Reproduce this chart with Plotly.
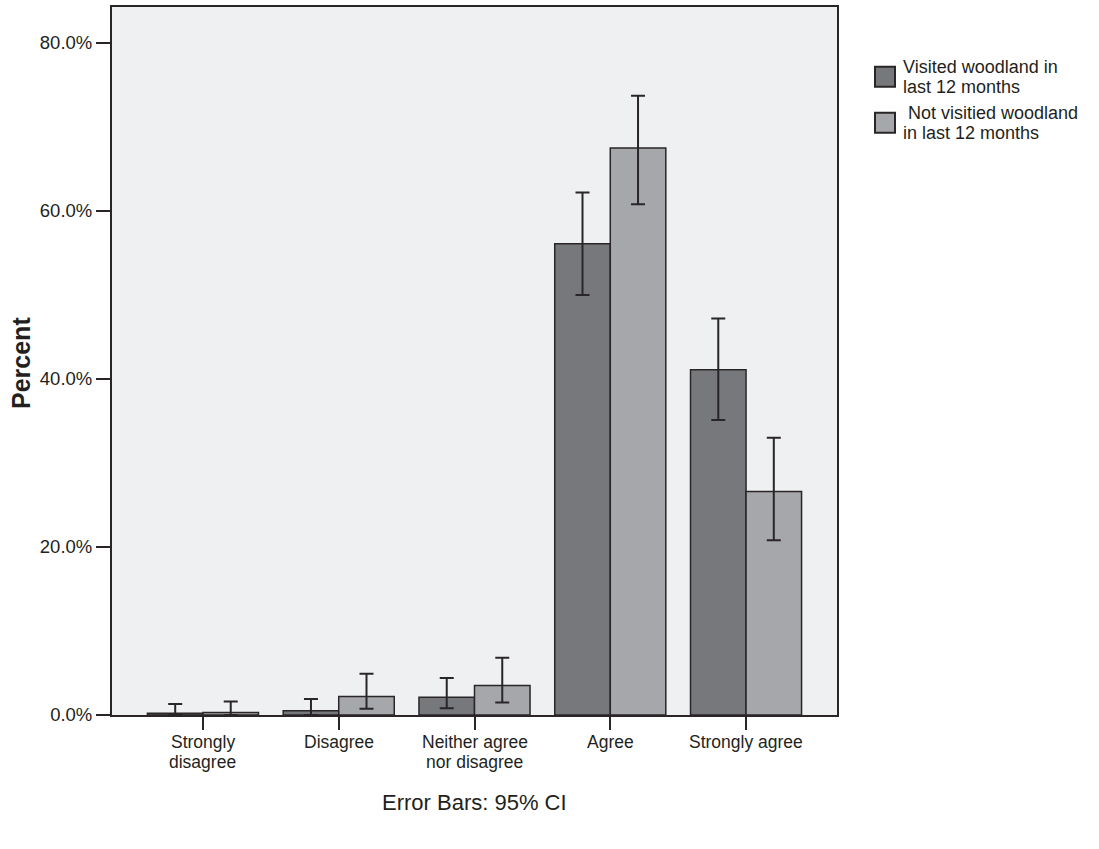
import plotly.graph_objects as go

categories = ["Strongly disagree", "Disagree", "Neither agree nor disagree", "Agree", "Strongly agree"]
category_label_lines = [["Strongly", "disagree"], ["Disagree"], ["Neither agree", "nor disagree"], ["Agree"], ["Strongly agree"]]
series_names = ["Visited woodland in last 12 months", " Not visitied woodland in last 12 months"]
legend_lines = [["Visited woodland in", "last 12 months"], ["\u00a0Not visitied woodland", "in last 12 months"]]

visited = [0.2, 0.5, 2.1, 56.1, 41.1]
visited_hi = [1.3, 1.9, 4.4, 62.2, 47.2]
visited_lo = [0.0, 0.0, 0.8, 50.0, 35.1]

not_visited = [0.3, 2.2, 3.5, 67.5, 26.6]
not_visited_hi = [1.6, 4.9, 6.8, 73.7, 33.0]
not_visited_lo = [0.0, 0.75, 1.5, 60.8, 20.8]

y_ticks = [0, 20, 40, 60, 80]
y_ticklabels = ["0.0%", "20.0%", "40.0%", "60.0%", "80.0%"]

DARK = "#77787c"
LIGHT = "#a6a7ab"
LINE = "#2a2627"
TXT = "#231f20"
FONT = "Liberation Sans, Arial, sans-serif"

# plot area in pixels
PL, PR, PT, PB = 112, 837, 5, 715
PW, PH = PR - PL, PB - PT


def px_x(x):
    return (x - PL) / PW


def px_y(y):
    return (PB - y) / PH


fig = go.Figure()
for name, vals, hi, lo, col in [
    (series_names[0], visited, visited_hi, visited_lo, DARK),
    (series_names[1], not_visited, not_visited_hi, not_visited_lo, LIGHT),
]:
    fig.add_trace(go.Bar(
        x=categories, y=vals, name=name,
        marker=dict(color=col, line=dict(color=LINE, width=1.5)),
        error_y=dict(type="data", symmetric=False,
                     array=[h - v for h, v in zip(hi, vals)],
                     arrayminus=[v - l for v, l in zip(vals, lo)],
                     color=LINE, thickness=2, width=7),
        showlegend=False,
    ))

fig.update_layout(
    width=1099, height=849,
    margin=dict(l=PL, r=1099 - PR, t=PT, b=849 - PB),
    paper_bgcolor="white", plot_bgcolor="#eff0f2",
    barmode="group", bargap=0.182, bargroupgap=0,
    font=dict(family=FONT, size=18.5, color=TXT),
)
fig.update_xaxes(range=[-0.67, 4.67], showline=True, mirror=True, linecolor=LINE, linewidth=2,
                 ticks="outside", ticklen=13, tickwidth=2, tickcolor=LINE, showgrid=False,
                 showticklabels=False)
fig.update_yaxes(range=[0, 84.27], showline=True, mirror=True, linecolor=LINE, linewidth=2,
                 ticks="outside", ticklen=14, tickwidth=2, tickcolor=LINE, showgrid=False, zeroline=False,
                 tickvals=y_ticks, ticktext=y_ticklabels, tickfont=dict(size=18.5, color=TXT))

# category labels, one annotation per line for tight line spacing
line_y = [742, 762]
for cat, lines in zip(categories, category_label_lines):
    for j, ln in enumerate(lines):
        fig.add_annotation(xref="x", yref="paper", x=cat, y=px_y(line_y[j]), text=ln,
                           showarrow=False, xanchor="center", yanchor="middle",
                           font=dict(size=17.5, color=TXT, family=FONT))

# y axis title
fig.add_annotation(xref="paper", yref="paper", x=px_x(21), y=px_y(362), text="<b>Percent</b>",
                   textangle=-90, showarrow=False, xanchor="center", yanchor="middle",
                   font=dict(size=25, color=TXT, family=FONT))

# manual legend
sq_y = [75, 121]
text_y = [[65, 85], [111, 131]]
for i, col in enumerate([DARK, LIGHT]):
    yc = sq_y[i]
    fig.add_shape(type="rect", xref="paper", yref="paper",
                  x0=px_x(875), x1=px_x(895), y0=px_y(yc + 10), y1=px_y(yc - 10),
                  fillcolor=col, line=dict(color=LINE, width=2))
    for j, ln in enumerate(legend_lines[i]):
        fig.add_annotation(xref="paper", yref="paper", x=px_x(901), y=px_y(text_y[i][j]),
                           text=ln, showarrow=False, xanchor="left", yanchor="middle", align="left",
                           font=dict(size=18, color=TXT, family=FONT))

fig.add_annotation(xref="paper", yref="paper", x=0.5, y=px_y(803), text="Error Bars: 95% CI",
                   showarrow=False, xanchor="center", yanchor="middle",
                   font=dict(size=22, color=TXT, family=FONT))

fig.write_html("out.html", config={"displayModeBar": False},
               post_script="document.body.style.margin='0px';")
